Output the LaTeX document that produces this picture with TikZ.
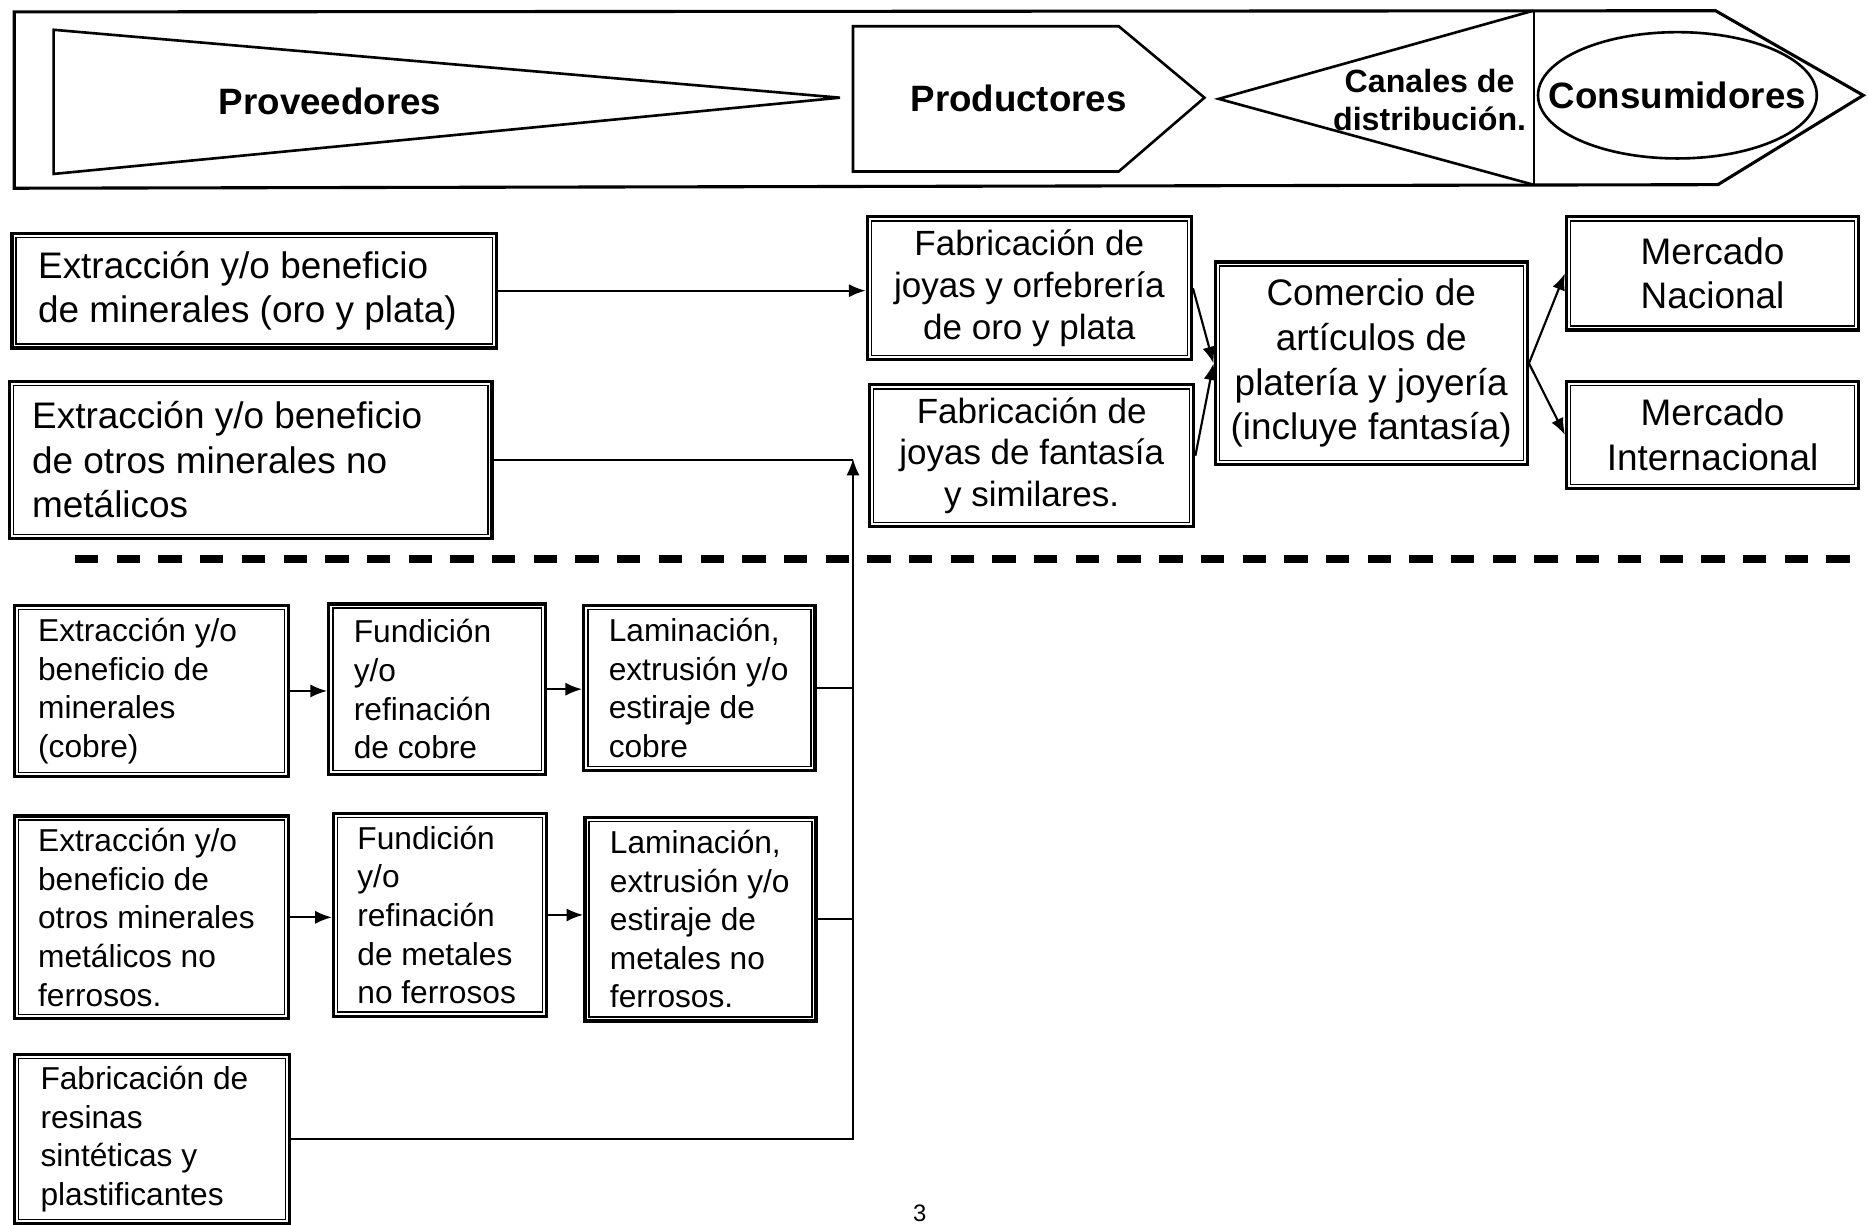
\documentclass[tikz,border=0pt]{standalone}
\usepackage{fontspec}
\setmainfont{Liberation Sans}
\usetikzlibrary{arrows.meta}
\newcommand\fbig{\fontsize{15.5pt}{18.75pt}\selectfont}
\newcommand\ffab{\fontsize{14.7pt}{17.5pt}\selectfont}
\newcommand\fsml{\fontsize{13.3pt}{16.2pt}\selectfont}
\newcommand\fhd{\fontsize{15.4pt}{18pt}\selectfont\bfseries}
\newcommand\fcan{\fontsize{13.5pt}{16pt}\selectfont\bfseries}
\begin{document}
\begin{tikzpicture}[x=0.5pt,y=-0.5pt,
  bx/.style={draw,line width=1.4pt,inner sep=0pt},
  lt/.style={anchor=west,align=left,inner sep=0pt},
  ct/.style={align=center,inner sep=0pt},
  arr/.style={-{Latex[length=7pt,width=5.5pt]},line width=0.9pt},
  ln/.style={line width=0.9pt},
  hd/.style={line width=1.1pt}]
\useasboundingbox (0,0) rectangle (1568,1028);

% ---------- header ----------
\draw[line width=1.3pt] (12,10) -- (1440,9) -- (1564,80) -- (1442,155) -- (12,158) -- cycle;
\draw[hd] (45,25) -- (705,82) -- (45,146) -- cycle;
\draw[hd] (716,22) -- (939,22) -- (1011,82) -- (939,144) -- (716,144) -- cycle;
\draw[hd] (1287,9) -- (1023,83) -- (1287,155);
\draw[line width=0.8pt] (1288,9) -- (1288,156);
\draw[hd] (1408,80) ellipse [x radius=58.5pt, y radius=26.5pt];

\node[font=\fhd] (prov) at (277,85) {Proveedores};
\node[font=\fhd] (prod) at (855,83) {Productores};
\node[font=\fcan,align=center] (can) at (1200,84) {Canales de\\distribución.};
\node[font=\fhd] (cons) at (1408,80) {Consumidores};

% ---------- upper boxes ----------
\node[bx,minimum width=203.5pt,minimum height=48pt] (a1) at (213.5,244) {};
\node[lt,font=\fbig] (a1t) at ([xshift=11.5pt]a1.west) {Extracción y/o beneficio\\de minerales (oro y plata)};

\node[bx,minimum width=202.5pt,minimum height=66pt] (a2) at (210.5,386) {};
\node[lt,font=\fbig] (a2t) at ([xshift=10pt]a2.west) {Extracción y/o beneficio\\de otros minerales no\\metálicos};

\node[bx,ct,font=\ffab,minimum width=136pt,minimum height=60pt] (fab1) at (864,242) {Fabricación de\\joyas y orfebrería\\de oro y plata};
\node[bx,ct,font=\ffab,minimum width=136pt,minimum height=59.5pt] (fab2) at (866,382.5) {Fabricación de\\joyas de fantasía\\y similares.};

\node[bx,ct,font=\fbig,minimum width=131pt,minimum height=85pt] (com) at (1151,305) {Comercio de\\artículos de\\platería y joyería\\(incluye fantasía)};

\node[bx,ct,font=\fbig,minimum width=122.5pt,minimum height=47.5pt] (mn) at (1437.5,229.5) {Mercado\\Nacional};
\node[bx,ct,font=\fbig,minimum width=122.5pt,minimum height=45pt] (mi) at (1437.5,365) {Mercado\\Internacional};

% ---------- lower boxes ----------
\node[bx,minimum width=115pt,minimum height=72pt] (cu1) at (127,580) {};
\node[lt,font=\fsml] (cu1t) at ([xshift=10.5pt]cu1.west) {Extracción y/o\\beneficio de\\minerales\\(cobre)};
\node[bx,minimum width=91pt,minimum height=71.5pt] (cu2) at (367,578.5) {};
\node[lt,font=\fsml] (cu2t) at ([xshift=11pt]cu2.west) {Fundición\\y/o\\refinación\\de cobre};
\node[bx,minimum width=97pt,minimum height=69.5pt] (cu3) at (587,577.5) {};
\node[lt,font=\fsml] (cu3t) at ([xshift=11pt]cu3.west) {Laminación,\\extrusión y/o\\estiraje de\\cobre};

\node[bx,minimum width=115pt,minimum height=85pt] (nf1) at (127,770) {};
\node[lt,font=\fsml] (nf1t) at ([xshift=10.5pt]nf1.west) {Extracción y/o\\beneficio de\\otros minerales\\metálicos no\\ferrosos.};
\node[bx,minimum width=89.5pt,minimum height=85pt] (nf2) at (369.5,768) {};
\node[lt,font=\fsml] (nf2t) at ([xshift=10.5pt]nf2.west) {Fundición\\y/o\\refinación\\de metales\\no ferrosos};
\node[bx,minimum width=97pt,minimum height=85.5pt] (nf3) at (588,771.5) {};
\node[lt,font=\fsml] (nf3t) at ([xshift=11pt]nf3.west) {Laminación,\\extrusión y/o\\estiraje de\\metales no\\ferrosos.};

\node[bx,minimum width=115.5pt,minimum height=71pt] (res) at (127.5,956) {};
\node[lt,font=\fsml] (rest) at ([xshift=11.5pt]res.west) {Fabricación de\\resinas\\sintéticas y\\plastificantes};

% inner lines of the double borders
\foreach \n in {a1,a2,fab1,fab2,com,mn,mi,cu1,cu2,cu3,nf1,nf2,nf3,res}
  \draw[line width=0.6pt] ([shift={(2.4pt,-2.4pt)}]\n.north west) rectangle ([shift={(-2.4pt,2.4pt)}]\n.south east);

% ---------- dashed separator ----------
\coordinate (d1) at (63,469);
\coordinate (d2) at (1568,469);
\draw[line width=3.2pt,dash pattern=on 9.8pt off 7.7pt] (d1) -- (d2);

% ---------- connectors ----------
\coordinate (J) at (716,385);
\draw[arr] (a1.east) -- (a1.east -| fab1.west);
\draw[ln] (a2.east) -- (a2.east -| J);
\draw[arr] (res.east) -- (res.east -| J) -- (J);
\draw[ln] (cu3.east) -- (cu3.east -| J);
\draw[ln] (nf3.east) -- (nf3.east -| J);
\draw[arr] (cu1.east) -- (cu1.east -| cu2.west);
\draw[arr] (cu2.east) -- (cu2.east -| cu3.west);
\draw[arr] (nf1.east) -- (nf1.east -| nf2.west);
\draw[arr] (nf2.east) -- (nf2.east -| nf3.west);
\draw[arr] (fab1.east) -- (com.west);
\draw[arr] (fab2.east) -- (com.west);
\draw[arr] (com.east) -- (mn.west);
\draw[arr] (com.east) -- (mi.west);

% page number
\node[font=\fontsize{10pt}{12pt}\selectfont,anchor=base,inner sep=0pt] (pg) at (772,1025) {3};
\end{tikzpicture}
\end{document}
